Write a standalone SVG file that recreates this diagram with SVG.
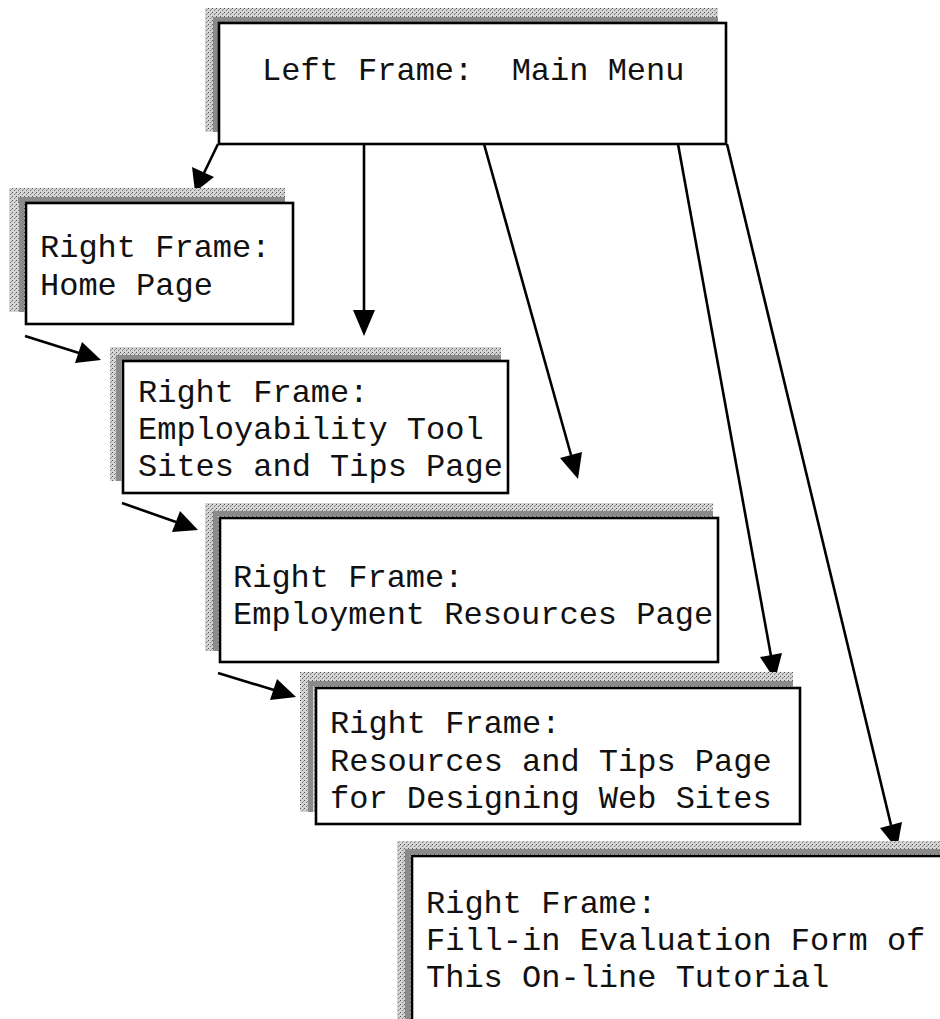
<svg xmlns="http://www.w3.org/2000/svg" width="940" height="1019" viewBox="0 0 940 1019">
<defs>
<pattern id="stip" width="4" height="4" patternUnits="userSpaceOnUse">
<rect width="4" height="4" fill="#d4d4d4"/>
<rect x="0" y="0" width="1" height="1" fill="#555"/>
<rect x="2" y="2" width="1" height="1" fill="#777"/>
<rect x="3" y="1" width="1" height="1" fill="#999"/>
</pattern>
<marker id="ah" viewBox="0 0 10 10" refX="10" refY="5" markerWidth="9" markerHeight="8" markerUnits="userSpaceOnUse" orient="auto" overflow="visible">
<path d="M0,0 L10,5 L0,10 Z" fill="#000"/>
</marker>
</defs>
<style>
.sh{fill:url(#stip);}
.shd{fill:#8a8a8a;}
.bx{fill:#fff;stroke:#000;stroke-width:2.6;}
.t{font-family:"Liberation Mono","Courier New",monospace;font-size:32px;fill:#111;white-space:pre;}
.c{stroke:#000;stroke-width:2.6;fill:none;}
.h{fill:#000;}
</style>
<g id="connectors">
<line class="c" x1="218" y1="144" x2="204" y2="173"/>
<polygon class="h" points="195,192 192,167 214,177"/>
<line class="c" x1="364" y1="144" x2="364" y2="312"/>
<polygon class="h" points="364,336 353,310 375,310"/>
<line class="c" x1="484" y1="144" x2="571" y2="455"/>
<polygon class="h" points="578,479 560,458 582,452"/>
<line class="c" x1="678" y1="144" x2="771" y2="656"/>
<polygon class="h" points="775,680 760,657 782,653"/>
<line class="c" x1="727" y1="144" x2="891" y2="825"/>
<polygon class="h" points="897,849 880,828 902,822"/>
<line class="c" x1="25" y1="336" x2="79" y2="353"/>
<polygon class="h" points="101,360 75,363 82,342"/>
<line class="c" x1="122" y1="503" x2="176" y2="522"/>
<polygon class="h" points="198,530 172,532 180,511"/>
<line class="c" x1="218" y1="673" x2="274" y2="690"/>
<polygon class="h" points="296,697 270,700 277,679"/>
</g>
<g id="main-menu">
<rect class="sh" x="205" y="8" width="513" height="124"/>
<rect class="shd" x="214" y="17" width="504" height="5"/>
<rect class="shd" x="213" y="17" width="5" height="115"/>
<rect class="bx" x="219" y="23" width="507" height="121"/>
<text class="t" x="262" y="80">Left Frame:  Main Menu</text>
</g>
<g id="home-page">
<rect class="sh" x="9" y="188" width="276" height="124"/>
<rect class="shd" x="18" y="197" width="267" height="5"/>
<rect class="shd" x="19" y="197" width="5" height="115"/>
<rect class="bx" x="26" y="203" width="267" height="121"/>
<text class="t" x="40" y="257">Right Frame:</text>
<text class="t" x="40" y="295">Home Page</text>
</g>
<g id="employability">
<rect class="sh" x="110" y="347" width="391" height="134"/>
<rect class="shd" x="117" y="355" width="384" height="5"/>
<rect class="shd" x="116" y="355" width="5" height="126"/>
<rect class="bx" x="123" y="361" width="385" height="132"/>
<text class="t" x="138" y="402">Right Frame:</text>
<text class="t" x="138" y="439">Employability Tool</text>
<text class="t" x="138" y="476">Sites and Tips Page</text>
</g>
<g id="employment">
<rect class="sh" x="205" y="503" width="508" height="148"/>
<rect class="shd" x="213" y="511" width="500" height="5"/>
<rect class="shd" x="213" y="511" width="5" height="140"/>
<rect class="bx" x="220" y="518" width="498" height="144"/>
<text class="t" x="233" y="587">Right Frame:</text>
<text class="t" x="233" y="624">Employment Resources Page</text>
</g>
<g id="resources-tips">
<rect class="sh" x="300" y="672" width="493" height="140"/>
<rect class="shd" x="308" y="681" width="485" height="5"/>
<rect class="shd" x="308" y="681" width="5" height="131"/>
<rect class="bx" x="316" y="688" width="484" height="136"/>
<text class="t" x="330" y="733">Right Frame:</text>
<text class="t" x="330" y="771">Resources and Tips Page</text>
<text class="t" x="330" y="808">for Designing Web Sites</text>
</g>
<g id="evaluation">
<rect class="sh" x="397" y="841" width="560" height="200"/>
<rect class="shd" x="405" y="849" width="550" height="5"/>
<rect class="shd" x="405" y="849" width="5" height="190"/>
<rect class="bx" x="412" y="856" width="560" height="200"/>
<text class="t" x="426" y="913">Right Frame:</text>
<text class="t" x="426" y="950">Fill-in Evaluation Form of</text>
<text class="t" x="426" y="987">This On-line Tutorial</text>
</g>
</svg>
